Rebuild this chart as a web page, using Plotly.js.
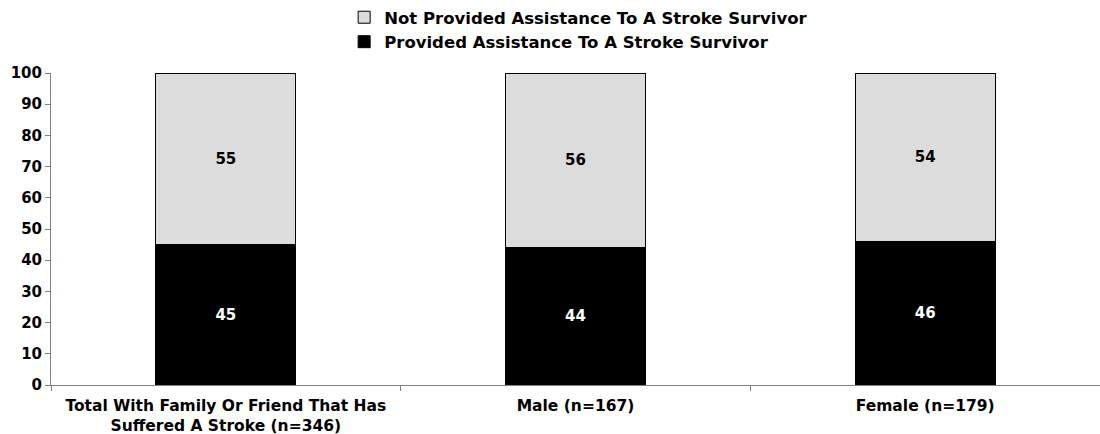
<!DOCTYPE html>
<html>
<head>
<meta charset="utf-8">
<script src="https://cdn.plot.ly/plotly-3.0.1.min.js"></script>
<style>html,body{margin:0;padding:0;background:#fff;}#chart{width:1100px;height:434px;}</style>
</head>
<body>
<div id="chart"></div>
<script>
// Stroke survivor assistance by group (percent)
const categories = [
  'Total With Family Or Friend That Has<br>Suffered A Stroke (n=346)',
  'Male (n=167)',
  'Female (n=179)'
];
const providedValues = [45, 44, 46];
const notProvidedValues = [55, 56, 54];
const seriesNames = ['Provided Assistance To A Stroke Survivor', 'Not Provided Assistance To A Stroke Survivor'];

const fam = '"DejaVu Sans", Verdana, sans-serif';
const boldFont = (size, color) => ({family: fam, size: size, color: color, weight: 'bold'});

const traces = [
  {
    type: 'bar', name: seriesNames[0], x: categories, y: providedValues,
    text: providedValues.map(String), textposition: 'inside', insidetextanchor: 'middle',
    textfont: boldFont(15, '#fff'),
    marker: {color: '#000000', line: {color: '#000', width: 1}},
    width: 0.4, hoverinfo: 'skip'
  },
  {
    type: 'bar', name: seriesNames[1], x: categories, y: notProvidedValues,
    text: notProvidedValues.map(String), textposition: 'inside', insidetextanchor: 'middle',
    textfont: boldFont(15, '#000'),
    marker: {color: '#dcdcdc', line: {color: '#000', width: 1}},
    width: 0.4, hoverinfo: 'skip'
  }
];

const layout = {
  width: 1100, height: 434,
  margin: {l: 51, r: 0, t: 73, b: 49, pad: 0},
  barmode: 'stack',
  paper_bgcolor: '#fff', plot_bgcolor: '#fff',
  font: boldFont(15, '#000'),
  showlegend: true,
  legend: {
    orientation: 'v', traceorder: 'reversed',
    x: 0.503, xanchor: 'center', xref: 'paper',
    y: 1.0, yanchor: 'top', yref: 'container',
    font: boldFont(16.5, '#000'),
    itemwidth: 30, tracegroupgap: 0, bgcolor: 'rgba(0,0,0,0)'
  },
  xaxis: {
    type: 'category', tickson: 'boundaries', ticks: 'outside', ticklen: 5, tickcolor: '#808080',
    showline: true, linecolor: '#808080', linewidth: 1, showgrid: false, zeroline: false,
    ticklabelstandoff: 6,
    tickfont: boldFont(15.5, '#000')
  },
  yaxis: {
    range: [0, 100], dtick: 10, ticks: 'outside', ticklen: 5, tickcolor: '#808080',
    showline: true, linecolor: '#808080', linewidth: 1, showgrid: false, zeroline: false,
    tickfont: boldFont(15, '#000')
  }
};

Plotly.newPlot('chart', traces, layout, {staticPlot: true, displayModeBar: false});
</script>
</body>
</html>
